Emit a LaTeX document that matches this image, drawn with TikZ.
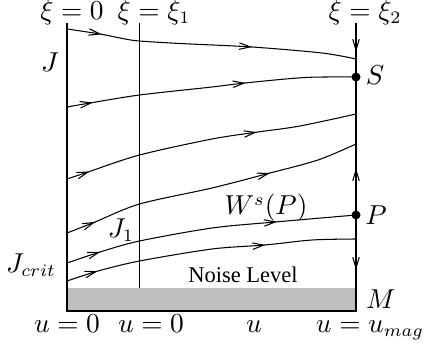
\documentclass[tikz,border=0pt]{standalone}
\usepackage{fontspec}
\newfontfamily\noisefont{Liberation Serif}
\usetikzlibrary{arrows.meta,decorations.markings}
\begin{document}
\begin{tikzpicture}[x=0.4pt,y=-0.4pt,
  line/.style={line width=0.42pt},
  barb/.style={line, -{Straight Barb[length=4.4pt,width=2.6pt]}},
  flow/.style 2 args={line, postaction={decorate}, decoration={markings,
     mark=at position #1 with {\arrow{Straight Barb[length=4.4pt,width=2.6pt]}},
     mark=at position #2 with {\arrow{Straight Barb[length=4.4pt,width=2.6pt]}}}},
  lbl/.style={anchor=base, inner sep=0pt, font=\fontsize{10.5}{12}\selectfont},
  dot/.style={circle, fill, inner sep=0pt, minimum size=3.6pt}]
\path[use as bounding box] (0,0) rectangle (425,345);
% noise band
\fill[gray!50] (67,288) rectangle (356,311);
% frame lines
\coordinate (L0) at (67,23);
\coordinate (LB) at (67,311);
\coordinate (RB) at (356,311);
\coordinate (R0) at (356,23);
\coordinate (M0) at (139.5,23);
\coordinate (M1) at (139.5,288);
\coordinate (RA) at (356,52);
\coordinate (RU) at (356,168);
\coordinate (RD) at (356,270);
\node[dot] (S) at (356,77) {};
\node[dot] (P) at (356,215) {};
\draw[line] (L0) -- (LB) -- (RB) -- (R0);
\draw[line] (M0) -- (M1);
\draw[barb] (R0) -- (RA);
\draw[barb] (P) -- (RU);
\draw[barb] (P) -- (RD);
% trajectories
\draw[flow={0.12}{0.64}] plot[smooth] coordinates {(67,29) (100,34) (125,39) (139.5,41) (180,43.5) (252,47) (322,53) (356,59)};
\draw[flow={0.09}{0.62}] plot[smooth] coordinates {(67,107) (90,103) (139.5,95) (212,87) (245,83) (305,77.5) (356,77)};
\draw[flow={0.08}{0.66}] plot[smooth] coordinates {(67,179) (88,172) (139.5,155) (212,139) (258,132) (300,126) (356,114)};
\draw[flow={0.10}{0.70}] plot[smooth] coordinates {(67,233) (95,222) (139.5,204) (212,188) (270,173) (318,160) (356,144)};
\draw[flow={0.12}{0.73}] plot[smooth] coordinates {(67,263) (100,252) (139.5,241) (212,228) (275,222) (356,215)};
\draw[flow={0.11}{0.69}] plot[smooth] coordinates {(67,281) (98,271) (139.5,261) (212,249) (265,245) (312,240) (356,239)};
% labels
\node[lbl] (x0) at (72,19.5) {$\xi=0$};
\node[lbl] (x1) at (154,19.5) {$\xi=\xi_1$};
\node[lbl] (x2) at (365,19.5) {$\xi=\xi_2$};
\node[lbl] (J) at (50,72) {$J$};
\node[lbl] (Sl) at (375,85) {$S$};
\node[lbl] (Pl) at (376,224) {$P$};
\node[lbl] (Ml) at (381,308) {$M$};
\node[lbl] (W) at (266,215) {$W^s(P)$};
\node[lbl] (J1) at (121,237) {$J_1$};
\node[lbl] (Jc) at (31,272) {$J_{crit}$};
\node[anchor=base, inner sep=0pt, font=\noisefont\fontsize{9}{11}\selectfont] (N) at (243,282) {Noise Level};
\node[lbl] (u0) at (67,332) {$u=0$};
\node[lbl] (u1) at (151,332) {$u=0$};
\node[lbl] (u) at (254,332) {$u$};
\node[lbl] (um) at (370,332) {$u=u_{mag}$};
\end{tikzpicture}
\end{document}
